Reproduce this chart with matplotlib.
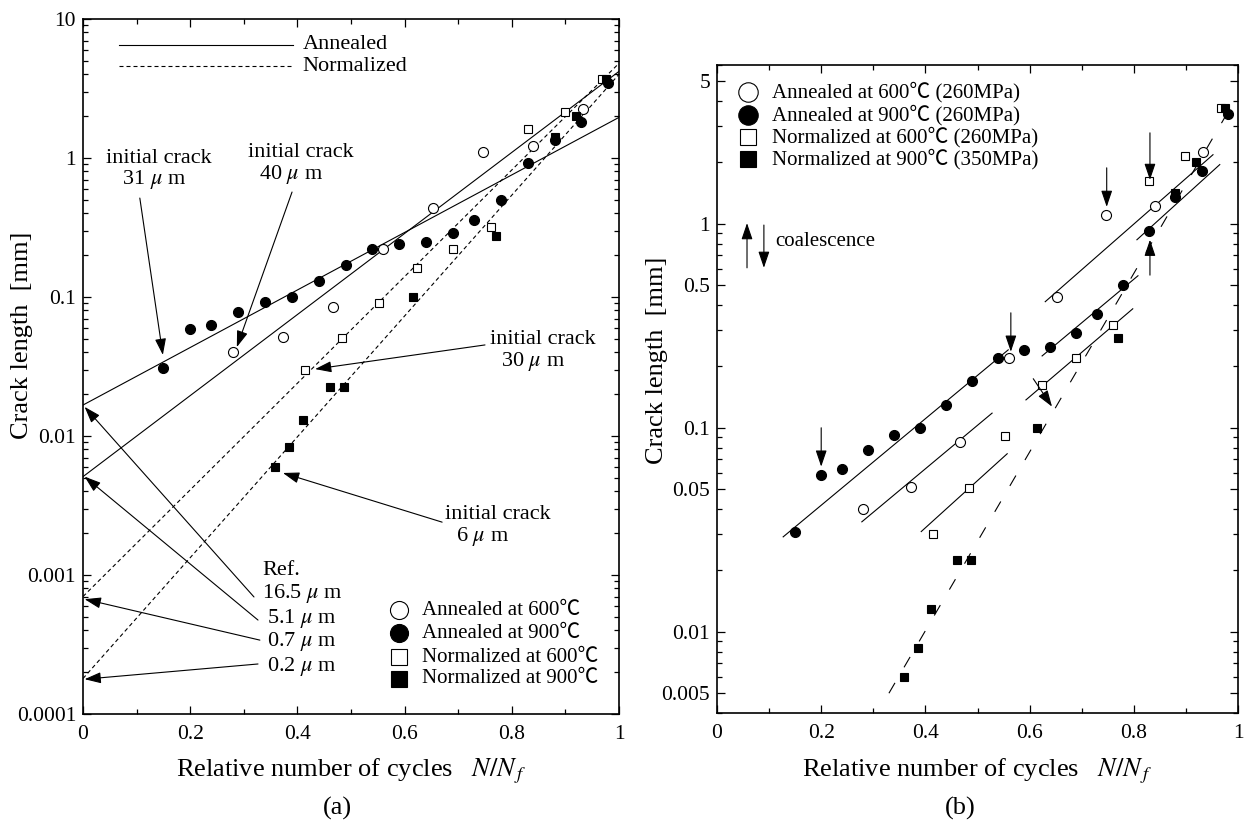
import matplotlib
matplotlib.use('Agg')
import matplotlib.pyplot as plt
from matplotlib.ticker import FixedLocator, NullFormatter

plt.rcParams['font.family'] = ['Liberation Serif', 'Noto Sans CJK JP', 'DejaVu Sans']
plt.rcParams['mathtext.fontset'] = 'stix'

# ---------------- data (relative life N/Nf, crack length mm) ----------------
ann600_x = [0.28, 0.373, 0.466, 0.56, 0.653, 0.746, 0.84, 0.933]
ann600_y = [0.040, 0.0515, 0.085, 0.22, 0.436, 1.1, 1.22, 2.25]

ann900_x = [0.149, 0.2, 0.239, 0.29, 0.34, 0.39, 0.44, 0.49, 0.54, 0.59,
            0.64, 0.69, 0.73, 0.78, 0.83, 0.88, 0.93, 0.98]
ann900_y = [0.031, 0.059, 0.063, 0.078, 0.092, 0.10, 0.13, 0.17, 0.22, 0.24,
            0.25, 0.29, 0.36, 0.50, 0.92, 1.35, 1.82, 3.45]

norm600_x = [0.414, 0.484, 0.553, 0.623, 0.69, 0.761, 0.83, 0.899, 0.968]
norm600_y = [0.030, 0.0506, 0.091, 0.162, 0.22, 0.32, 1.62, 2.14, 3.7]

norm900_x = [0.358, 0.385, 0.41, 0.461, 0.487, 0.615, 0.77, 0.88, 0.92, 0.975]
norm900_y = [0.006, 0.0083, 0.013, 0.0224, 0.0224, 0.10, 0.275, 1.42, 2.0, 3.7]

labels_a = ['Annealed at 600℃', 'Annealed at 900℃',
            'Normalized at 600℃', 'Normalized at 900℃']
labels_b = ['Annealed at 600℃ (260MPa)', 'Annealed at 900℃ (260MPa)',
            'Normalized at 600℃ (260MPa)', 'Normalized at 900℃ (350MPa)']

# fitted lines (a): (x0, y0, x1, y1)
fit_a_annealed = [(0.0, 0.0167, 1.0, 1.96), (0.0, 0.0051, 1.0, 4.2)]
fit_a_normalized = [(0.0, 0.0007, 1.0, 4.8), (0.0, 0.00018, 1.0, 4.0)]

# fitted segments (b)
fit_b_solid = [(0.127, 0.0292, 0.559, 0.241),
               (0.624, 0.225, 0.808, 0.556),
               (0.806, 0.835, 0.965, 1.95),
               (0.278, 0.0346, 0.528, 0.118),
               (0.63, 0.415, 0.952, 2.18),
               (0.392, 0.031, 0.557, 0.0746),
               (0.593, 0.137, 0.798, 0.383)]
fit_b_dashed = [(0.33, 0.005, 0.977, 3.4)]

# coalescence arrows (b): (x_from, y_from, x_to, y_to)
coal_arrows = [(0.2, 0.1, 0.2, 0.0645),
               (0.564, 0.366, 0.564, 0.236),
               (0.748, 1.88, 0.748, 1.21),
               (0.831, 2.79, 0.831, 1.64),
               (0.831, 0.56, 0.831, 0.835),
               (0.607, 0.174, 0.643, 0.127)]

# initial-crack annotations (a): text, text pos, arrow from, arrow to
init_notes = [("initial crack\n   31 $\\mu$ m", (0.043, 0.82), (0.106, 0.515), (0.149, 0.0383)),
              ("initial crack\n  40 $\\mu$ m", (0.308, 0.90), (0.39, 0.569), (0.287, 0.0436)),
              ("initial crack\n  30 $\\mu$ m", (0.759, 0.0405), (0.75, 0.0452), (0.433, 0.0303)),
              ("initial crack\n  6 $\\mu$ m", (0.675, 0.00222), (0.67, 0.0024), (0.373, 0.00542))]

ref_texts = ["Ref.", "16.5 $\\mu$ m", "5.1 $\\mu$ m", "0.7 $\\mu$ m", "0.2 $\\mu$ m"]
ref_text_pos = [(0.334, 0.001086), (0.334, 0.00073), (0.343, 0.00049),
                (0.343, 0.00033), (0.343, 0.000221)]
ref_arrows = [(0.319, 0.000695, 0.003, 0.0162),
              (0.3265, 0.000474, 0.003, 0.0051),
              (0.330, 0.00034, 0.003, 0.00067),
              (0.3265, 0.000229, 0.003, 0.000178)]

TICK_FS = 15.5
LAB_FS = 19
ANN_FS = 16
LEG_FS = 15

fig = plt.figure(figsize=(12.45, 8.25), dpi=100)
W, H = 1245.0, 825.0
axA = fig.add_axes([83 / W, 1 - 714 / H, (619 - 83) / W, (714 - 19) / H])
axB = fig.add_axes([717 / W, 1 - 713 / H, (1238 - 717) / W, (713 - 65) / H])

series = [(ann600_x, ann600_y, 'o', 'white'),
          (ann900_x, ann900_y, 'o', 'black'),
          (norm600_x, norm600_y, 's', 'white'),
          (norm900_x, norm900_y, 's', 'black')]
msz = {'o': 7.2, 's': 6.4}

arrow_style = '-|>,head_length=0.5,head_width=0.17'


def style_axes(ax):
    ax.set_yscale('log')
    ax.set_xlim(0, 1)
    ax.xaxis.set_major_locator(FixedLocator([0, 0.2, 0.4, 0.6, 0.8, 1.0]))
    ax.xaxis.set_minor_locator(FixedLocator([0.1, 0.3, 0.5, 0.7, 0.9]))
    ax.set_xticklabels(['0', '0.2', '0.4', '0.6', '0.8', '1'])
    ax.tick_params(which='both', direction='in', top=True, right=True,
                   labelsize=TICK_FS, width=0.9)
    ax.tick_params(axis='y', pad=5)
    ax.tick_params(axis='x', pad=8)
    ax.tick_params(which='major', length=6)
    ax.tick_params(which='minor', length=3.5)
    for s in ax.spines.values():
        s.set_linewidth(1.2)
    ax.set_xlabel('Relative number of cycles   $N/N_{\\,f}$', fontsize=LAB_FS)
    ax.set_ylabel('Crack length  [mm]', fontsize=LAB_FS)


# ---------------- panel (a) ----------------
style_axes(axA)
axA.set_ylim(1e-4, 10)
axA.set_yticks([1e-4, 1e-3, 1e-2, 1e-1, 1, 10])
axA.set_yticklabels(['0.0001', '0.001', '0.01', '0.1', '1', '10'])
axA.yaxis.set_minor_locator(FixedLocator(
    [m * 10.0 ** e for e in range(-4, 1) for m in range(2, 10)]))
axA.yaxis.set_minor_formatter(NullFormatter())

for x0, y0, x1, y1 in fit_a_annealed:
    axA.plot([x0, x1], [y0, y1], color='k', lw=0.8, zorder=2)
for x0, y0, x1, y1 in fit_a_normalized:
    axA.plot([x0, x1], [y0, y1], color='k', lw=0.8, ls=(0, (3.6, 2.7)), zorder=2)

for xs, ys, mk, fc in series:
    axA.plot(xs, ys, ls='none', marker=mk, ms=msz[mk], mfc=fc, mec='k',
             mew=0.8, zorder=3)

# line-type key
axA.plot([0.067, 0.392], [0.9626, 0.9626], transform=axA.transAxes, color='k', lw=0.8)
axA.plot([0.067, 0.392], [0.932, 0.932], transform=axA.transAxes, color='k', lw=0.8,
         ls=(0, (3.6, 2.7)))
axA.text(0.41, 0.9626, 'Annealed', transform=axA.transAxes, fontsize=ANN_FS, va='center')
axA.text(0.41, 0.932, 'Normalized', transform=axA.transAxes, fontsize=ANN_FS, va='center')

# marker key
rows_a = [0.1496, 0.1165, 0.082, 0.0504]
for (xs, ys, mk, fc), lab, ry in zip(series, labels_a, rows_a):
    axA.plot([0.59], [ry], transform=axA.transAxes, marker=mk,
             ms=13 if mk == 'o' else 12, mfc=fc, mec='k', mew=0.8, ls='none')
    axA.text(0.632, ry, lab, transform=axA.transAxes, fontsize=LEG_FS, va='center')

for txt, tpos, afrom, ato in init_notes:
    axA.text(tpos[0], tpos[1], txt, fontsize=ANN_FS, va='center', ha='left',
             linespacing=1.05)
    axA.annotate('', xy=ato, xytext=afrom,
                 arrowprops=dict(arrowstyle=arrow_style, color='k', lw=0.8,
                                 mutation_scale=20, shrinkA=0, shrinkB=0))

for txt, pos in zip(ref_texts, ref_text_pos):
    axA.text(pos[0], pos[1], txt, fontsize=ANN_FS, va='center', ha='left')
for x0, y0, x1, y1 in ref_arrows:
    axA.annotate('', xy=(x1, y1), xytext=(x0, y0),
                 arrowprops=dict(arrowstyle=arrow_style, color='k', lw=0.8,
                                 mutation_scale=20, shrinkA=0, shrinkB=0))

axA.xaxis.set_label_coords(0.5, -0.062)
axA.yaxis.set_label_coords(-0.093, 0.545)

# ---------------- panel (b) ----------------
style_axes(axB)
axB.set_ylim(0.004, 6.0)
axB.set_yticks([0.005, 0.01, 0.05, 0.1, 0.5, 1, 5])
axB.set_yticklabels(['0.005', '0.01', '0.05', '0.1', '0.5', '1', '5'])
axB.yaxis.set_minor_locator(FixedLocator(
    [m * 10.0 ** e for e in range(-3, 1) for m in (2, 3, 4, 6, 7, 8, 9)]))
axB.yaxis.set_minor_formatter(NullFormatter())

for x0, y0, x1, y1 in fit_b_solid:
    axB.plot([x0, x1], [y0, y1], color='k', lw=0.8, zorder=2)
for x0, y0, x1, y1 in fit_b_dashed:
    axB.plot([x0, x1], [y0, y1], color='k', lw=0.8, ls=(0, (10.8, 16.2)), zorder=2)

for xs, ys, mk, fc in series:
    axB.plot(xs, ys, ls='none', marker=mk, ms=msz[mk], mfc=fc, mec='k',
             mew=0.8, zorder=3)

for x0, y0, x1, y1 in coal_arrows:
    axB.annotate('', xy=(x1, y1), xytext=(x0, y0),
                 arrowprops=dict(arrowstyle=arrow_style, color='k', lw=0.8,
                                 mutation_scale=20, shrinkA=0, shrinkB=0))

rows_b = [0.958, 0.923, 0.889, 0.855]
for (xs, ys, mk, fc), lab, ry in zip(series, labels_b, rows_b):
    axB.plot([0.0595], [ry], transform=axB.transAxes, marker=mk,
             ms=14 if mk == 'o' else 12, mfc=fc, mec='k', mew=0.8, ls='none')
    axB.text(0.1056, ry, lab, transform=axB.transAxes, fontsize=LEG_FS, va='center')

# coalescence key
axB.annotate('', xy=(0.0576, 0.756), xytext=(0.0576, 0.687), xycoords='axes fraction',
             textcoords='axes fraction',
             arrowprops=dict(arrowstyle=arrow_style, color='k', lw=0.8,
                             mutation_scale=20, shrinkA=0, shrinkB=0))
axB.annotate('', xy=(0.090, 0.687), xytext=(0.090, 0.753), xycoords='axes fraction',
             textcoords='axes fraction',
             arrowprops=dict(arrowstyle=arrow_style, color='k', lw=0.8,
                             mutation_scale=20, shrinkA=0, shrinkB=0))
axB.text(0.111, 0.728, 'coalescence', transform=axB.transAxes, fontsize=LEG_FS,
         va='center')

axB.xaxis.set_label_coords(0.5, -0.068)
axB.yaxis.set_label_coords(-0.094, 0.545)

fig.text(337 / W, 1 - 808 / H, '(a)', fontsize=LAB_FS, ha='center', va='center')
fig.text(960 / W, 1 - 808 / H, '(b)', fontsize=LAB_FS, ha='center', va='center')

fig.savefig('out.png', dpi=100)
